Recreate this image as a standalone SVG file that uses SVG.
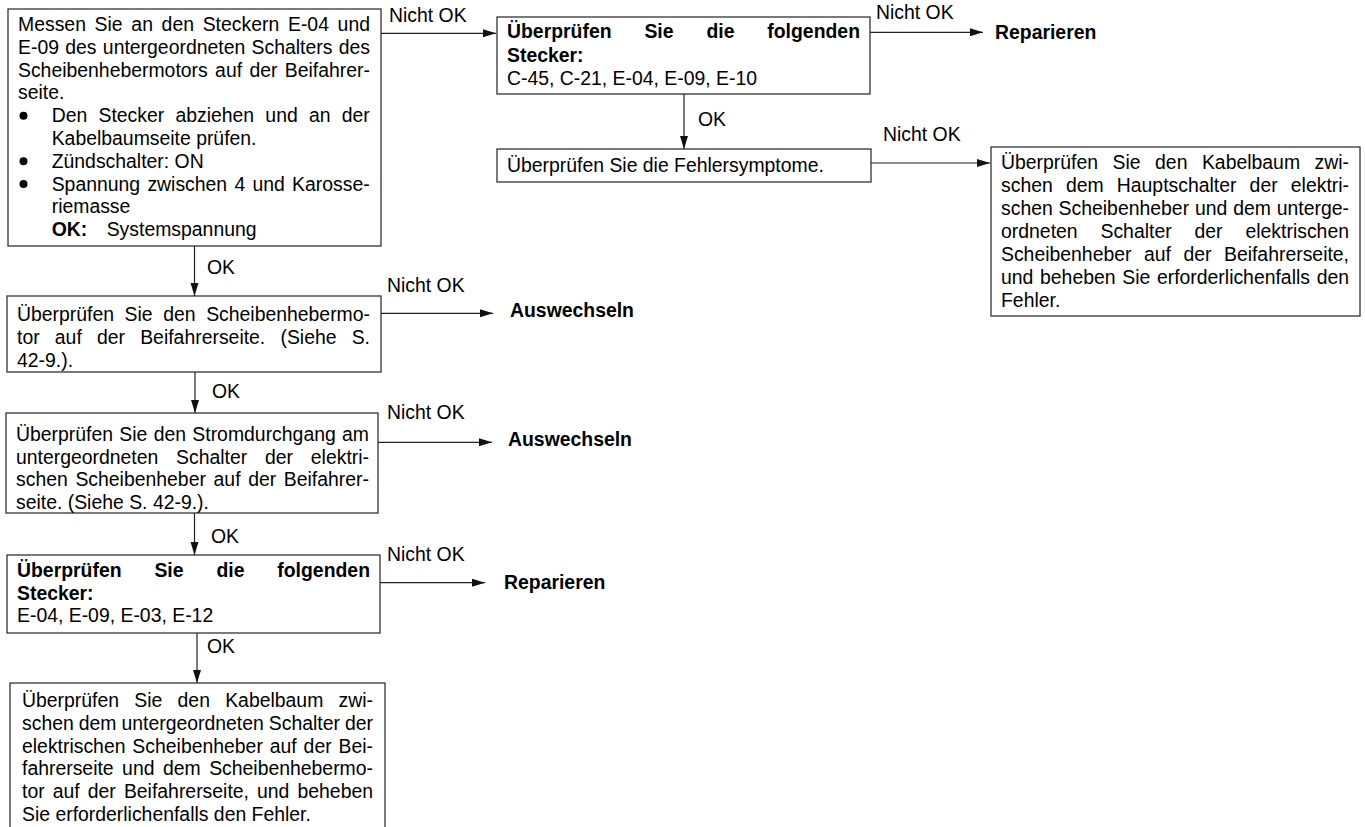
<svg xmlns="http://www.w3.org/2000/svg" width="1365" height="827" viewBox="0 0 1365 827">
<style>
text{font-family:"Liberation Sans",Arial,Helvetica,sans-serif;font-size:19.4px;fill:#000}
.b{font-weight:bold}
.box{fill:#fff;stroke:#333;stroke-width:1.3}
.con{stroke:#222;stroke-width:1.2;fill:none}
.dot{fill:#000}
</style>
<defs>
<marker id="ah" markerUnits="userSpaceOnUse" markerWidth="14" markerHeight="9" refX="13" refY="4" orient="auto">
<path d="M0,0 L13,4 L0,8 z" fill="#111"/>
</marker>
</defs>
<rect width="1365" height="827" fill="#fff"/>

<g id="connectors">
<line class="con" x1="381" y1="33.3" x2="496" y2="33.3" marker-end="url(#ah)"/>
<line class="con" x1="870" y1="32.3" x2="983" y2="32.3" marker-end="url(#ah)"/>
<line class="con" x1="684" y1="94" x2="684" y2="149" marker-end="url(#ah)"/>
<line class="con" x1="871" y1="163" x2="990" y2="163" marker-end="url(#ah)"/>
<line class="con" x1="194.5" y1="246" x2="194.5" y2="296" marker-end="url(#ah)"/>
<line class="con" x1="381" y1="313.3" x2="493" y2="313.3" marker-end="url(#ah)"/>
<line class="con" x1="195" y1="372" x2="195" y2="413" marker-end="url(#ah)"/>
<line class="con" x1="378" y1="442.3" x2="492" y2="442.3" marker-end="url(#ah)"/>
<line class="con" x1="194.5" y1="513" x2="194.5" y2="555" marker-end="url(#ah)"/>
<line class="con" x1="380" y1="582.7" x2="485" y2="582.7" marker-end="url(#ah)"/>
<line class="con" x1="197" y1="633" x2="197" y2="683" marker-end="url(#ah)"/>
<text x="389" y="21.5">Nicht OK</text>
<text x="876" y="19">Nicht OK</text>
<text x="883" y="141">Nicht OK</text>
<text x="387" y="292">Nicht OK</text>
<text x="387" y="419">Nicht OK</text>
<text x="387" y="561">Nicht OK</text>
<text x="698" y="126">OK</text>
<text x="207" y="274">OK</text>
<text x="212" y="398">OK</text>
<text x="211" y="543">OK</text>
<text x="207" y="653">OK</text>
</g>

<g id="n1">
<rect class="box" x="8" y="9" width="373" height="237"/>
<text x="18" y="31" word-spacing="3.3" textLength="352" lengthAdjust="spacing">Messen Sie an den Steckern E-04 und</text>
<text x="18" y="53.8" word-spacing="0.9" textLength="352" lengthAdjust="spacing">E-09 des untergeordneten Schalters des</text>
<text x="18" y="76.6" word-spacing="2" textLength="352" lengthAdjust="spacing">Scheibenhebermotors auf der Beifahrer-</text>
<text x="18" y="99.4">seite.</text>
<circle class="dot" cx="23.5" cy="115.7" r="4"/>
<text x="51.7" y="122.2" word-spacing="5.8" textLength="318" lengthAdjust="spacing">Den Stecker abziehen und an der</text>
<text x="51.7" y="145">Kabelbaumseite prüfen.</text>
<circle class="dot" cx="23.5" cy="161.3" r="4"/>
<text x="51.7" y="167.8">Zündschalter: ON</text>
<circle class="dot" cx="23.5" cy="184.1" r="4"/>
<text x="51.7" y="190.6" word-spacing="1.9" textLength="318" lengthAdjust="spacing">Spannung zwischen 4 und Karosse-</text>
<text x="51.7" y="213.4">riemasse</text>
<text x="51.7" y="236.2" class="b">OK:</text>
<text x="106.7" y="236.2">Systemspannung</text>
</g>

<g id="n2">
<rect class="box" x="497" y="17" width="373" height="77"/>
<text x="507" y="38" class="b" word-spacing="27.5" textLength="353" lengthAdjust="spacing">Überprüfen Sie die folgenden</text>
<text x="507" y="62" class="b">Stecker:</text>
<text x="507" y="85">C-45, C-21, E-04, E-09, E-10</text>
</g>

<g id="n3">
<text x="995" y="39" class="b">Reparieren</text>
</g>

<g id="n4">
<rect class="box" x="497" y="149" width="374" height="33"/>
<text x="507" y="172">Überprüfen Sie die Fehlersymptome.</text>
</g>

<g id="n5">
<rect class="box" x="991" y="147" width="369" height="169"/>
<text x="1001" y="169" word-spacing="9.1" textLength="348" lengthAdjust="spacing">Überprüfen Sie den Kabelbaum zwi-</text>
<text x="1001" y="192" word-spacing="7.75" textLength="348" lengthAdjust="spacing">schen dem Hauptschalter der elektri-</text>
<text x="1001" y="215" word-spacing="0.45" textLength="348" lengthAdjust="spacing">schen Scheibenheber und dem unterge-</text>
<text x="1001" y="238" word-spacing="17.5" textLength="348" lengthAdjust="spacing">ordneten Schalter der elektrischen</text>
<text x="1001" y="261" word-spacing="7.1" textLength="348" lengthAdjust="spacing">Scheibenheber auf der Beifahrerseite,</text>
<text x="1001" y="284" word-spacing="1.3" textLength="348" lengthAdjust="spacing">und beheben Sie erforderlichenfalls den</text>
<text x="1001" y="307">Fehler.</text>
</g>

<g id="n6">
<rect class="box" x="7" y="296" width="374" height="76"/>
<text x="17" y="321" word-spacing="5.2" textLength="353" lengthAdjust="spacing">Überprüfen Sie den Scheibenhebermo-</text>
<text x="17" y="344" word-spacing="9.8" textLength="353" lengthAdjust="spacing">tor auf der Beifahrerseite. (Siehe S.</text>
<text x="17" y="367">42-9.).</text>
</g>

<g id="n7">
<text x="510" y="317" class="b">Auswechseln</text>
</g>

<g id="n8">
<rect class="box" x="6" y="413" width="372" height="100"/>
<text x="16" y="441" word-spacing="0.9" textLength="353" lengthAdjust="spacing">Überprüfen Sie den Stromdurchgang am</text>
<text x="16" y="463.5" word-spacing="12.4" textLength="353" lengthAdjust="spacing">untergeordneten Schalter der elektri-</text>
<text x="16" y="486" word-spacing="2.25" textLength="353" lengthAdjust="spacing">schen Scheibenheber auf der Beifahrer-</text>
<text x="16" y="508.5">seite. (Siehe S. 42-9.).</text>
</g>

<g id="n9">
<text x="508" y="446" class="b">Auswechseln</text>
</g>

<g id="n10">
<rect class="box" x="7" y="555" width="373" height="78"/>
<text x="17" y="577" class="b" word-spacing="27.5" textLength="353" lengthAdjust="spacing">Überprüfen Sie die folgenden</text>
<text x="17" y="600" class="b">Stecker:</text>
<text x="17" y="622">E-04, E-09, E-03, E-12</text>
</g>

<g id="n11">
<text x="504" y="589" class="b">Reparieren</text>
</g>

<g id="n12">
<rect class="box" x="10" y="683" width="375" height="160"/>
<text x="22" y="707" word-spacing="9.85" textLength="351" lengthAdjust="spacing">Überprüfen Sie den Kabelbaum zwi-</text>
<text x="22" y="730" word-spacing="-0.4" textLength="351" lengthAdjust="spacing">schen dem untergeordneten Schalter der</text>
<text x="22" y="752.5" word-spacing="1.5" textLength="351" lengthAdjust="spacing">elektrischen Scheibenheber auf der Bei-</text>
<text x="22" y="775" word-spacing="3.1" textLength="351" lengthAdjust="spacing">fahrerseite und dem Scheibenhebermo-</text>
<text x="22" y="798" word-spacing="2.7" textLength="351" lengthAdjust="spacing">tor auf der Beifahrerseite, und beheben</text>
<text x="22" y="821">Sie erforderlichenfalls den Fehler.</text>
</g>
</svg>
